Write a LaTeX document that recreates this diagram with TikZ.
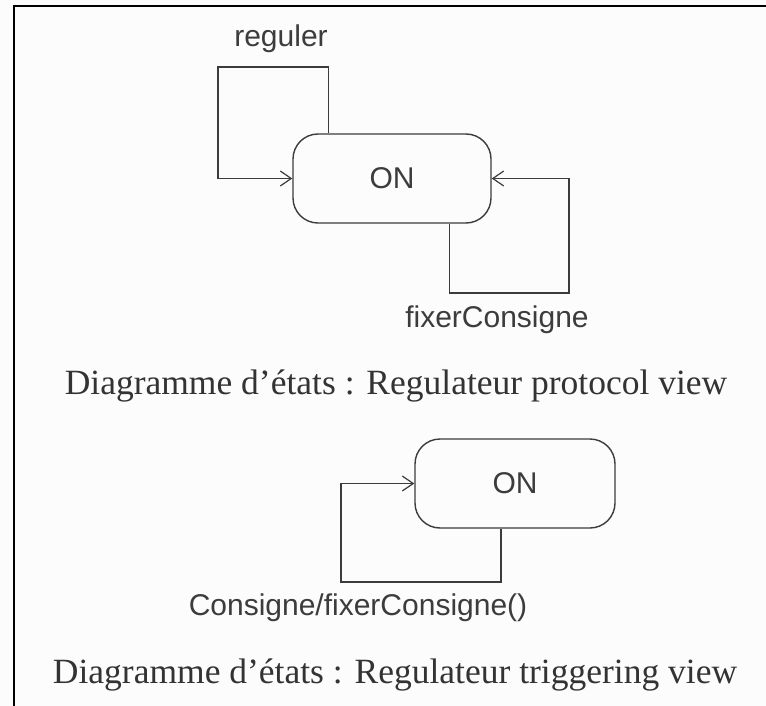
\documentclass[tikz,border=0pt]{standalone}
\usepackage{fontspec}
\setmainfont{Liberation Serif}
\newfontfamily\umlfont{Liberation Sans}
\usetikzlibrary{arrows.meta,positioning}
\newcommand{\umltxt}{\umlfont\fontsize{30pt}{32pt}\selectfont}
\newcommand{\captxt}{\fontsize{35.5pt}{37pt}\selectfont}
\definecolor{umlgray}{HTML}{3C3C3C}

\begin{document}
\begin{tikzpicture}[x=1pt,y=-1pt,
  state/.style={draw=umlgray,line width=1.4pt,rounded corners=25pt,minimum width=198pt,minimum height=89pt,inner sep=0pt,text=umlgray,font=\umltxt},
  trans/.style={draw=umlgray,line width=1.4pt,-{Straight Barb[length=11pt,width=15pt,line width=1.2pt]}},
  lbl/.style={inner sep=0pt,text=umlgray,font=\umltxt},
  caption/.style={inner sep=0pt,text=black!80,font=\captxt}]
\useasboundingbox[fill=black!1] (0,0) rectangle (766,706);
%frame
\draw[line width=2pt] (14,706) -- (14,6) -- (766,6);
%protocol view
\node[state] (on1) at (392,178.5) {ON};
\node[lbl] (reg) at (281,39) {reguler};
\node[lbl] (fix) at (497,320) {fixerConsigne};
\draw[trans] ([xshift=36pt]on1.north west) |- (218,67) |- (on1.west);
\draw[trans] ([xshift=-42pt]on1.south east) |- (569,293) |- (on1.east);
\node[caption] (cap1) at (396,386) {Diagramme d’états : Regulateur protocol view};
%triggering view
\node[state,minimum width=200pt] (on2) at (515,483.5) {ON};
\node[lbl] (cons) at (358,608) {Consigne/fixerConsigne()};
\draw[trans] ([xshift=-14pt]on2.south) |- (341,582) |- (on2.west);
\node[caption] (cap2) at (395,675) {Diagramme d’états : Regulateur triggering view};
\end{tikzpicture}
\end{document}
